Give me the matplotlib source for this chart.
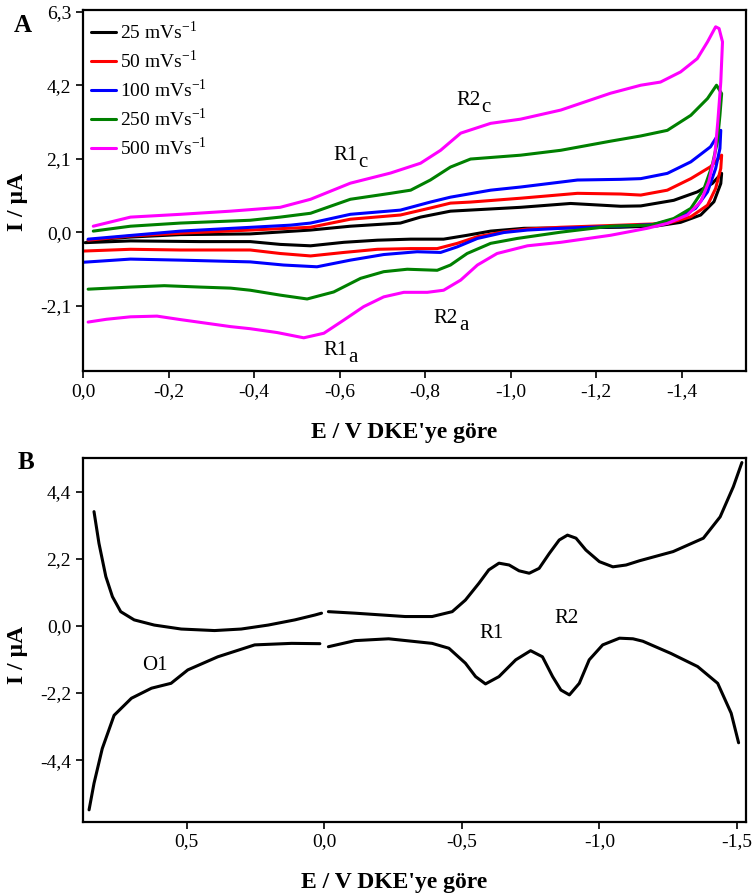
import matplotlib
matplotlib.use("Agg")
import matplotlib.pyplot as plt

plt.rcParams['font.family'] = ['Liberation Serif', 'DejaVu Serif']
plt.rcParams['mathtext.fontset'] = 'custom'
plt.rcParams['mathtext.rm'] = 'Liberation Serif'

# ---- panel A: CVs at different scan rates (upper branch then return) ----
rate_labels = ["25 mVs$^{\\mathregular{-1}}$", "50 mVs$^{\\mathregular{-1}}$", "100 mVs$^{\\mathregular{-1}}$",
               "250 mVs$^{\\mathregular{-1}}$", "500 mVs$^{\\mathregular{-1}}$"]
rate_colors = ["black", "red", "blue", "green", "magenta"]

e25 = [-0.012, -0.111, -0.228, -0.391, -0.532, -0.625, -0.742, -0.789, -0.859, -1.023, -1.140, -1.257, -1.304, -1.381, -1.436, -1.471, -1.493,
       -1.491, -1.475, -1.444, -1.397, -1.343, -1.257, -1.117, -1.031, -0.953, -0.898, -0.843, -0.766, -0.688, -0.610, -0.532, -0.461,
       -0.391, -0.274, -0.111, -0.005]
i25 = [-0.23, -0.14, -0.07, -0.05, 0.06, 0.17, 0.26, 0.43, 0.60, 0.71, 0.82, 0.74, 0.75, 0.91, 1.15, 1.39, 1.68,
       1.39, 0.87, 0.49, 0.28, 0.18, 0.14, 0.12, 0.11, 0.03, -0.09, -0.20, -0.20, -0.23, -0.29, -0.39, -0.35,
       -0.27, -0.27, -0.25, -0.30]

e50 = [-0.012, -0.111, -0.228, -0.391, -0.532, -0.625, -0.742, -0.812, -0.859, -0.906, -1.023, -1.156, -1.257, -1.304, -1.366, -1.421, -1.467, -1.493,
       -1.491, -1.479, -1.460, -1.421, -1.366, -1.257, -1.117, -1.039, -0.984, -0.922, -0.875, -0.828, -0.766, -0.688, -0.610, -0.532, -0.461,
       -0.391, -0.228, -0.111, -0.001]
i50 = [-0.23, -0.11, -0.03, 0.06, 0.14, 0.37, 0.49, 0.69, 0.83, 0.86, 0.97, 1.11, 1.09, 1.06, 1.20, 1.53, 1.87, 2.20,
       1.82, 1.25, 0.77, 0.44, 0.25, 0.20, 0.14, 0.09, 0.01, -0.13, -0.32, -0.47, -0.47, -0.49, -0.58, -0.68, -0.61,
       -0.51, -0.51, -0.49, -0.54]

e100 = [-0.012, -0.228, -0.485, -0.532, -0.625, -0.742, -0.812, -0.859, -0.953, -1.023, -1.156, -1.257, -1.304, -1.366, -1.421, -1.467, -1.491,
        -1.489, -1.479, -1.460, -1.432, -1.389, -1.335, -1.257, -1.117, -1.039, -0.984, -0.922, -0.875, -0.836, -0.781, -0.703, -0.625, -0.547,
        -0.469, -0.391, -0.228, -0.111, -0.001]
i100 = [-0.20, 0.03, 0.20, 0.26, 0.51, 0.63, 0.86, 1.00, 1.20, 1.29, 1.49, 1.51, 1.53, 1.68, 2.01, 2.44, 2.91,
        2.39, 1.82, 1.15, 0.68, 0.39, 0.22, 0.17, 0.11, 0.06, -0.01, -0.18, -0.42, -0.58, -0.56, -0.64, -0.80, -0.99,
        -0.94, -0.85, -0.80, -0.77, -0.86]

e250 = [-0.024, -0.111, -0.228, -0.391, -0.461, -0.532, -0.625, -0.719, -0.766, -0.812, -0.859, -0.906, -1.023, -1.117, -1.233, -1.304, -1.366,
        -1.421, -1.460, -1.481, -1.493,
        -1.489, -1.483, -1.471, -1.452, -1.421, -1.381, -1.327, -1.233, -1.117, -1.015, -0.953, -0.898, -0.859, -0.828, -0.758, -0.703, -0.649,
        -0.586, -0.524, -0.461, -0.391, -0.345, -0.274, -0.190, -0.111, -0.012]
i250 = [0.03, 0.17, 0.26, 0.34, 0.43, 0.54, 0.94, 1.11, 1.20, 1.49, 1.86, 2.09, 2.20, 2.34, 2.60, 2.75, 2.91,
        3.34, 3.82, 4.20, 3.96,
        3.34, 2.58, 1.91, 1.25, 0.68, 0.39, 0.20, 0.17, 0.0, -0.18, -0.32, -0.61, -0.94, -1.09, -1.06, -1.13, -1.32,
        -1.71, -1.91, -1.80, -1.66, -1.60, -1.57, -1.53, -1.57, -1.63]

e500 = [-0.024, -0.111, -0.228, -0.345, -0.461, -0.532, -0.625, -0.719, -0.789, -0.836, -0.883, -0.953, -1.023, -1.117, -1.233, -1.304, -1.350,
        -1.397, -1.436, -1.460, -1.479, -1.487, -1.495,
        -1.491, -1.484, -1.477, -1.463, -1.444, -1.413, -1.366, -1.319, -1.233, -1.117, -1.039, -0.968, -0.922, -0.883, -0.843, -0.805, -0.750,
        -0.703, -0.656, -0.610, -0.563, -0.516, -0.454, -0.391, -0.345, -0.228, -0.173, -0.111, -0.055, -0.012]
i500 = [0.17, 0.43, 0.51, 0.60, 0.71, 0.94, 1.40, 1.69, 1.97, 2.34, 2.83, 3.11, 3.23, 3.49, 3.97, 4.20, 4.29,
        4.58, 4.96, 5.44, 5.87, 5.82, 5.44,
        4.29, 3.15, 2.20, 1.44, 0.87, 0.49, 0.25, 0.11, -0.09, -0.29, -0.39, -0.61, -0.94, -1.37, -1.66, -1.72, -1.72,
        -1.85, -2.13, -2.51, -2.89, -3.02, -2.87, -2.76, -2.70, -2.50, -2.40, -2.42, -2.49, -2.57]

a_xticks = [0.0, -0.2, -0.4, -0.6, -0.8, -1.0, -1.2, -1.4]
a_xticklabels = ["0,0", "-0,2", "-0,4", "-0,6", "-0,8", "-1,0", "-1,2", "-1,4"]
a_yticks = [-2.1, 0.0, 2.1, 4.2, 6.3]
a_yticklabels = ["-2,1", "0,0", "2,1", "4,2", "6,3"]

# ---- panel B: single CV, curve broken at 0 V ----
b_e_up1 = [0.837, 0.819, 0.794, 0.770, 0.740, 0.691, 0.618, 0.520, 0.399, 0.302, 0.204, 0.107, 0.034, 0.010]
b_i_up1 = [3.75, 2.71, 1.62, 0.96, 0.47, 0.20, 0.03, -0.10, -0.15, -0.10, 0.03, 0.20, 0.36, 0.42]
b_e_up2 = [-0.015, -0.112, -0.294, -0.392, -0.465, -0.513, -0.562, -0.598, -0.635, -0.672, -0.708, -0.745, -0.781, -0.818,
           -0.854, -0.884, -0.915, -0.951, -1.000, -1.049, -1.097, -1.146, -1.268, -1.378, -1.439, -1.487, -1.518]
b_i_up2 = [0.47, 0.42, 0.31, 0.31, 0.47, 0.85, 1.40, 1.84, 2.06, 2.00, 1.81, 1.73, 1.89, 2.38,
           2.82, 2.98, 2.88, 2.49, 2.11, 1.94, 2.00, 2.14, 2.44, 2.88, 3.58, 4.57, 5.36]
b_e_low2 = [-1.506, -1.479, -1.430, -1.357, -1.260, -1.158, -1.122, -1.073, -1.012, -0.963, -0.927, -0.891, -0.860, -0.830,
            -0.793, -0.750, -0.696, -0.635, -0.586, -0.550, -0.513, -0.453, -0.392, -0.234, -0.112, -0.015]
b_i_low2 = [-3.83, -2.86, -1.88, -1.33, -0.90, -0.50, -0.42, -0.40, -0.62, -1.11, -1.88, -2.26, -2.10, -1.66,
            -1.01, -0.81, -1.11, -1.66, -1.90, -1.66, -1.22, -0.73, -0.57, -0.42, -0.48, -0.68]
b_e_low1 = [0.016, 0.119, 0.253, 0.387, 0.496, 0.557, 0.628, 0.701, 0.764, 0.807, 0.837, 0.855]
b_i_low1 = [-0.58, -0.57, -0.62, -1.01, -1.44, -1.88, -2.04, -2.37, -2.93, -4.02, -5.16, -6.03]

b_xticks = [0.5, 0.0, -0.5, -1.0, -1.5]
b_xticklabels = ["0,5", "0,0", "-0,5", "-1,0", "-1,5"]
b_yticks = [-4.4, -2.2, 0.0, 2.2, 4.4]
b_yticklabels = ["-4,4", "-2,2", "0,0", "2,2", "4,4"]

xlabel = "E / V DKE'ye göre"
ylabel = "I / µA"


def style_axes(ax):
    for s in ax.spines.values():
        s.set_linewidth(1.6)
    ax.tick_params(direction='out', length=5, width=1.2, labelsize=14, top=False, right=False)


def peak_label(ax, x, y, main, sub=None):
    ax.text(x, y, main, fontsize=15, ha='left', va='baseline')
    if sub:
        ax.annotate(sub, (x, y), xytext=(18, -5), textcoords='offset points',
                    fontsize=15, ha='left', va='baseline')


fig = plt.figure(figsize=(7.56, 8.93), dpi=100)

# panel A
axA = fig.add_axes([0.1098, 0.5845, 0.877, 0.4043])
for e, i, c, lab in zip([e25, e50, e100, e250, e500], [i25, i50, i100, i250, i500], rate_colors, rate_labels):
    axA.plot(e, i, color=c, lw=2.2, label=lab, solid_joinstyle='round', solid_capstyle='round')
axA.set_xlim(0.0, -1.55)
axA.set_ylim(-3.97, 6.35)
axA.set_xticks(a_xticks)
axA.set_xticklabels(a_xticklabels)
axA.set_yticks(a_yticks)
axA.set_yticklabels(a_yticklabels)
style_axes(axA)
axA.set_xlabel(xlabel, fontsize=17, fontweight='bold')
axA.set_ylabel(ylabel, fontsize=17, fontweight='bold')
axA.xaxis.set_label_coords(0.484, -0.141)
axA.yaxis.set_label_coords(-0.083, 0.468)
axA.legend(loc='upper left', bbox_to_anchor=(-0.006, 1.003), frameon=False, fontsize=14,
           handlelength=1.3, handletextpad=0.2, labelspacing=0.33, borderaxespad=0.2)
peak_label(axA, -0.585, 2.06, "R1", "c")
peak_label(axA, -0.562, -3.51, "R1", "a")
peak_label(axA, -0.873, 3.63, "R2", "c")
peak_label(axA, -0.820, -2.59, "R2", "a")
fig.text(0.03, 0.972, "A", fontsize=18, fontweight='bold', ha='center', va='center')

# panel B
axB = fig.add_axes([0.1098, 0.0798, 0.877, 0.4070])
for e, i in [(b_e_up1, b_i_up1), (b_e_up2, b_i_up2), (b_e_low2, b_i_low2), (b_e_low1, b_i_low1)]:
    axB.plot(e, i, color='black', lw=2.2, solid_joinstyle='round', solid_capstyle='round')
axB.set_xlim(0.877, -1.533)
axB.set_ylim(-6.42, 5.50)
axB.set_xticks(b_xticks)
axB.set_xticklabels(b_xticklabels)
axB.set_yticks(b_yticks)
axB.set_yticklabels(b_yticklabels)
style_axes(axB)
axB.set_xlabel(xlabel, fontsize=17, fontweight='bold')
axB.set_ylabel(ylabel, fontsize=17, fontweight='bold')
axB.xaxis.set_label_coords(0.469, -0.138)
axB.yaxis.set_label_coords(-0.083, 0.459)
peak_label(axB, 0.661, -1.44, "O1")
peak_label(axB, -0.562, -0.40, "R1")
peak_label(axB, -0.836, 0.11, "R2")
fig.text(0.034, 0.482, "B", fontsize=18, fontweight='bold', ha='center', va='center')

fig.savefig("out.png", dpi=100)
